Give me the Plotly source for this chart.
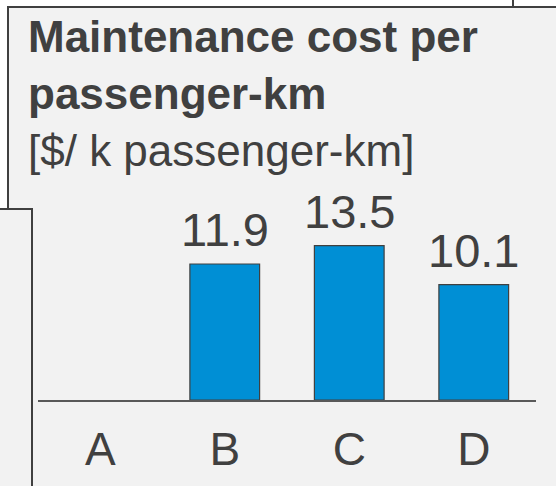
import plotly.graph_objects as go

# data
categories = ["A", "B", "C", "D"]
cost_values = [None, 11.9, 13.5, 10.1]
cost_labels = ["", "11.9", "13.5", "10.1"]

title_main = "Maintenance cost per<br>passenger-km"
title_unit = "[$/ k passenger-km]"

FONT = "Arial, Liberation Sans, sans-serif"
TXT = "#404040"
BOX_BG = "#f2f2f2"
BAR_COL = "#008fd5"

W, H = 556, 486
ML, MR, MT, MB = 38, 20, 0, 86
PW = W - ML - MR
PH = H - MT - MB


def px_x(p):
    return (p - ML) / PW


def px_y(p):
    return (H - MB - p) / PH


fig = go.Figure()

fig.add_trace(go.Bar(
    x=categories,
    y=cost_values,
    width=0.56,
    marker=dict(color=BAR_COL, line=dict(color=TXT, width=1.2)),
    cliponaxis=False,
    hoverinfo="skip",
))

# value labels above the bars
for cat, val, lab in zip(categories, cost_values, cost_labels):
    if val is None:
        continue
    fig.add_annotation(
        x=cat, y=val, xref="x", yref="y",
        text=lab, showarrow=False, yanchor="bottom", yshift=6,
        font=dict(family=FONT, size=47, color=TXT),
    )

shapes = [
    # main panel
    dict(type="rect", xref="paper", yref="paper",
         x0=px_x(8), x1=px_x(580), y0=px_y(7), y1=px_y(520),
         fillcolor=BOX_BG, line=dict(color=TXT, width=2), layer="below"),
    # panel to the left, on top of the main one
    dict(type="rect", xref="paper", yref="paper",
         x0=px_x(-20), x1=px_x(32), y0=px_y(209), y1=px_y(520),
         fillcolor=BOX_BG, line=dict(color=TXT, width=2), layer="below"),
    # corner of the box above
    dict(type="line", xref="paper", yref="paper",
         x0=px_x(513), x1=px_x(513), y0=px_y(-5), y1=px_y(7),
         line=dict(color=TXT, width=2), layer="below"),
]

fig.add_annotation(
    xref="paper", yref="paper", x=px_x(26), y=px_y(10),
    xanchor="left", yanchor="top", align="left", showarrow=False,
    text="<b>" + title_main + "</b><br>" + title_unit,
    font=dict(family=FONT, size=44, color=TXT),
)

fig.update_layout(
    width=W, height=H,
    margin=dict(l=ML, r=MR, t=MT, b=MB),
    paper_bgcolor="white",
    plot_bgcolor="rgba(0,0,0,0)",
    shapes=shapes,
    showlegend=False,
)
fig.update_xaxes(
    range=[-0.5, 3.5],
    showline=True, linecolor="#595959", linewidth=1.5,
    showgrid=False, zeroline=False, ticks="",
    ticklabelstandoff=8,
    tickfont=dict(family=FONT, size=46, color=TXT),
    fixedrange=True,
)
fig.update_yaxes(
    range=[0, 35], visible=False, showgrid=False, zeroline=False,
    fixedrange=True,
)

fig.write_html("out.html", config={"displayModeBar": False},
               post_script="document.body.style.margin='0';")
